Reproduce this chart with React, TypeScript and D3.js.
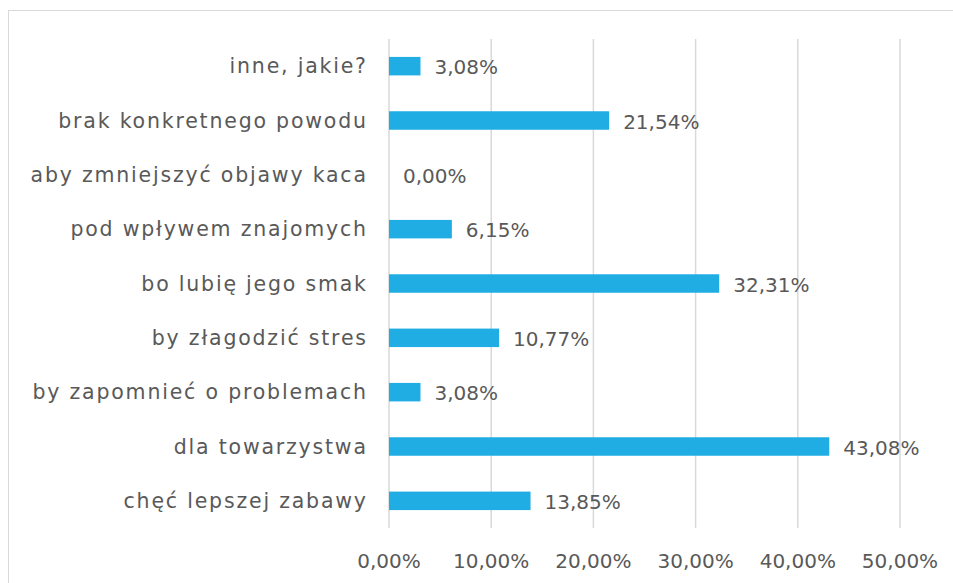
import React from "react";
import * as d3 from "d3";

const categories = [
  "inne, jakie?",
  "brak konkretnego powodu",
  "aby zmniejszyć objawy kaca",
  "pod wpływem znajomych",
  "bo lubię jego smak",
  "by złagodzić stres",
  "by zapomnieć o problemach",
  "dla towarzystwa",
  "chęć lepszej zabawy",
];
const values = [3.08, 21.54, 0.0, 6.15, 32.31, 10.77, 3.08, 43.08, 13.85];
const ticks = [0, 10, 20, 30, 40, 50];

const W = 953;
const H = 583;
const FONT = "'DejaVu Sans', sans-serif";
const TEXT = "#595959";
const BAR = "#1FADE4";
const GRID = "#D9D9D9";

const fmt = (v: number) => v.toFixed(2).replace(".", ",") + "%";

export default function App() {
  const x = d3.scaleLinear().domain([0, 50]).range([389, 900]);
  const y = d3.scaleBand<string>().domain(categories).range([39, 528]).paddingInner(0.66).paddingOuter(0.33);
  const LS = 1.8;
  return (
    <svg width={W} height={H} style={{ position: "absolute", left: 0, top: 0, background: "#fff" }}>
      <rect x={8.5} y={10.5} width={960} height={600} fill="#fff" stroke={GRID} strokeWidth={1} />
      {ticks.map((t) => (
        <g key={t}>
          <line x1={x(t)} x2={x(t)} y1={39} y2={528} stroke={GRID} strokeWidth={1.5} />
          <text x={x(t)} y={561} textAnchor="middle" dominantBaseline="central" fontFamily={FONT} fontSize={20} fill={TEXT}>
            {fmt(t)}
          </text>
        </g>
      ))}
      {categories.map((c, i) => {
        const yc = (y(c) as number) + y.bandwidth() / 2;
        return (
          <g key={c}>
            <text x={366 + LS} y={yc} textAnchor="end" dominantBaseline="central" fontFamily={FONT} fontSize={20.5} letterSpacing={LS} fill={TEXT}>
              {c}
            </text>
            <rect x={x(0)} y={y(c)} width={x(values[i]) - x(0)} height={y.bandwidth()} fill={BAR} />
            <text x={x(values[i]) + 14} y={yc + 1} dominantBaseline="central" fontFamily={FONT} fontSize={20} fill={TEXT}>
              {fmt(values[i])}
            </text>
          </g>
        );
      })}
    </svg>
  );
}
